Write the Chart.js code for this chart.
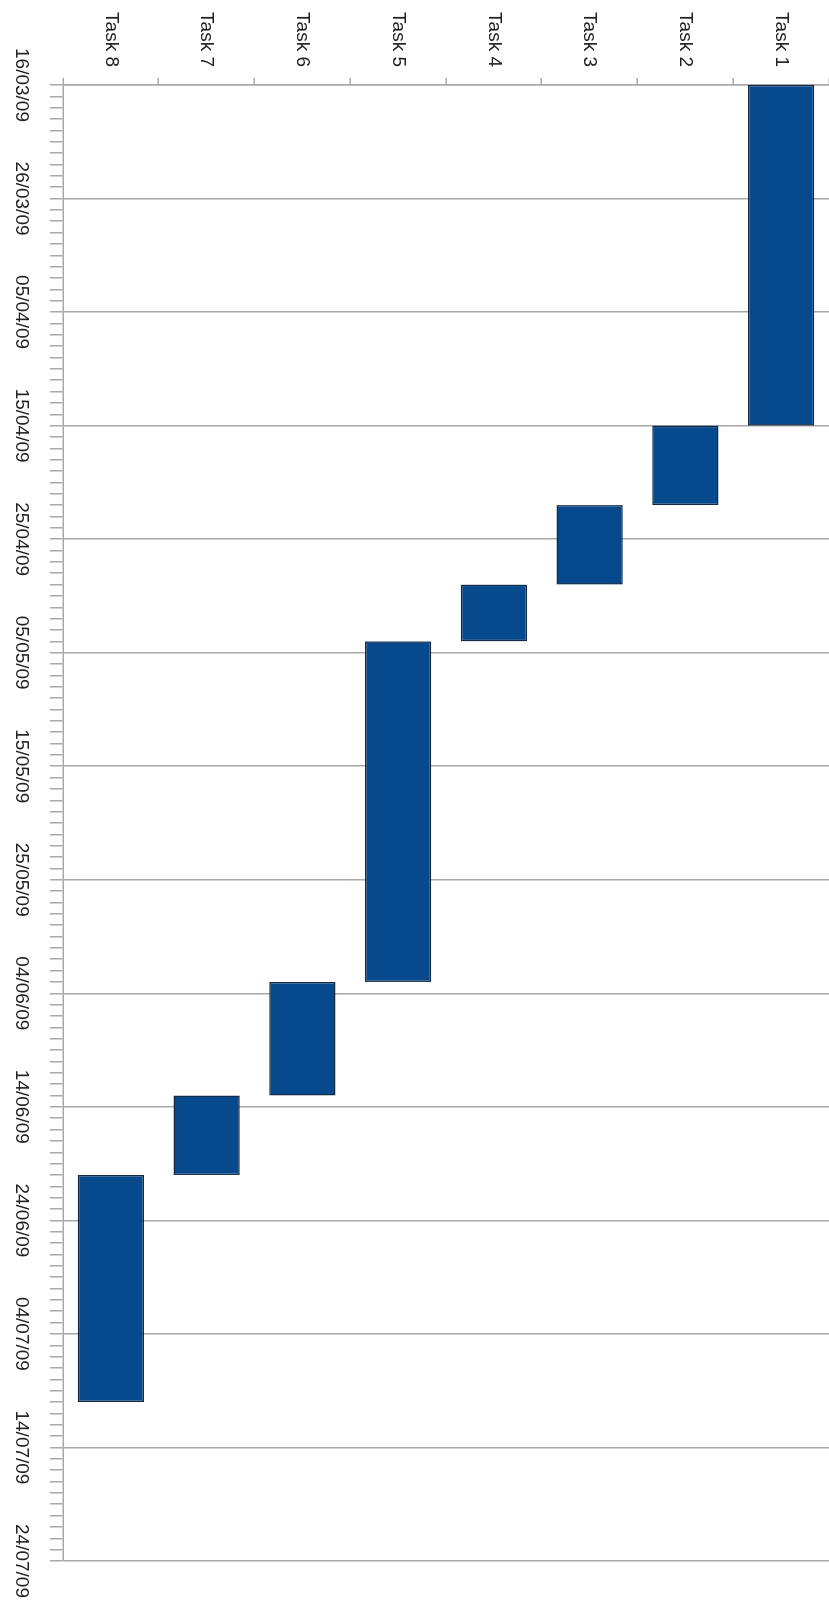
<!DOCTYPE html>
<html>
<head>
<meta charset="utf-8">
<title>Gantt</title>
<script src="https://cdn.jsdelivr.net/npm/chart.js@4.4.1/dist/chart.umd.min.js"></script>
<style>
    html, body { margin: 0; padding: 0; background: #fff; overflow: hidden; }
    #wrap { position: relative; width: 829px; height: 1603px; }
    /* chart is drawn landscape, then turned a quarter clockwise */
    #gantt { position: absolute; left: 0; top: 0; transform-origin: 0 0; transform: translate(829px, 0) rotate(90deg); }
</style>
</head>
<body>
<div id="wrap"><canvas id="gantt" width="1603" height="829"></canvas></div>
<script>
// task list
const tasks = ['Task 1', 'Task 2', 'Task 3', 'Task 4', 'Task 5', 'Task 6', 'Task 7', 'Task 8'];
const startDates = ['2009-03-16', '2009-04-15', '2009-04-22', '2009-04-29', '2009-05-04', '2009-06-03', '2009-06-13', '2009-06-20'];
const endDates = ['2009-04-15', '2009-04-22', '2009-04-29', '2009-05-04', '2009-06-03', '2009-06-13', '2009-06-20', '2009-07-10'];

// date axis range, major step in days
const axisStart = '2009-03-16';
const axisEnd = '2009-07-24';
const majorStep = 10;

const DAY = 86400000;
const toDay = s => Math.round(Date.parse(s) / DAY);
const pad = n => (n < 10 ? '0' : '') + n;
const fmtDay = d => {
    const dt = new Date(d * DAY);
    return pad(dt.getUTCDate()) + '/' + pad(dt.getUTCMonth() + 1) + '/' + pad(dt.getUTCFullYear() % 100);
};

const minDay = toDay(axisStart);
const maxDay = toDay(axisEnd);
const isMajor = v => (v - minDay) % majorStep === 0;
const FONT = { family: 'Liberation Sans, Arial, sans-serif', size: 19 };

const ctx = document.getElementById('gantt').getContext('2d');
new Chart(ctx, {
    type: 'bar',
    data: {
        labels: tasks,
        datasets: [{
            data: tasks.map((t, i) => [toDay(startDates[i]), toDay(endDates[i])]),
            backgroundColor: '#064a8d',
            borderColor: '#122a48',
            borderWidth: 1.5,
            borderSkipped: false,
            barPercentage: 0.69,
            categoryPercentage: 1
        }]
    },
    options: {
        indexAxis: 'y',
        responsive: false,
        devicePixelRatio: 1,
        animation: false,
        layout: { padding: { left: 0, right: 42, top: 0, bottom: 0 } },
        plugins: {
            legend: { display: false },
            tooltip: { enabled: false }
        },
        scales: {
            x: {
                type: 'linear',
                position: 'bottom',
                min: minDay,
                max: maxDay,
                afterBuildTicks: axis => {
                    const t = [];
                    for (let v = minDay; v <= maxDay; v++) t.push({ value: v });
                    axis.ticks = t;
                },
                afterFit: axis => {
                    axis.height = 63;
                    axis.paddingLeft = 0;
                    axis.paddingRight = 0;
                },
                ticks: {
                    autoSkip: false,
                    maxRotation: 0,
                    minRotation: 0,
                    padding: 17,
                    color: '#222',
                    font: FONT,
                    callback: v => (isMajor(v) ? fmtDay(v) : '')
                },
                grid: {
                    color: c => (c.tick && isMajor(c.tick.value) ? '#a8a8a8' : 'rgba(0,0,0,0)'),
                    tickColor: '#a8a8a8',
                    tickLength: 13,
                    lineWidth: 1.5
                },
                border: { color: '#a8a8a8', width: 1.5 }
            },
            y: {
                type: 'category',
                afterFit: axis => {
                    axis.width = 85;
                    axis.paddingTop = 0;
                    axis.paddingBottom = 0;
                },
                ticks: {
                    padding: 11,
                    color: '#222',
                    font: FONT
                },
                grid: {
                    offset: true,
                    drawOnChartArea: false,
                    tickLength: 7,
                    tickColor: '#a8a8a8',
                    lineWidth: 1.5
                },
                border: { color: '#a8a8a8', width: 1.5 }
            }
        }
    }
});
</script>
</body>
</html>
